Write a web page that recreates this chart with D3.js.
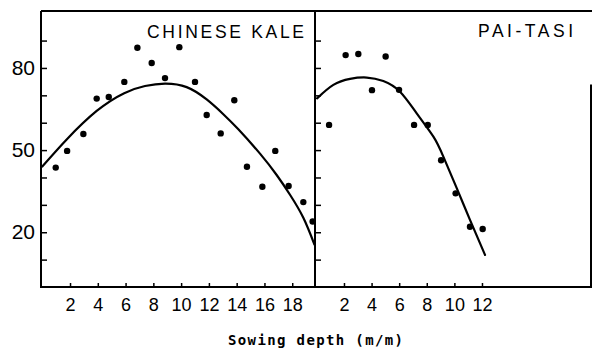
<!DOCTYPE html>
<html>
<head>
<meta charset="utf-8">
<script src="https://cdn.jsdelivr.net/npm/d3@7"></script>
<style>
  html, body { margin: 0; padding: 0; background: #fff; }
  svg { display: block; }
</style>
</head>
<body>
<svg id="chart" width="593" height="348"></svg>
<script>
// ---- data ----
const kaleDepth = [0.97, 1.79, 2.96, 3.92, 4.79, 5.91, 6.85, 7.88, 8.84, 9.87, 11.0, 11.84, 12.85, 13.83, 14.74, 15.85, 16.78, 17.74, 18.8, 19.47];
const kaleValue = [43.6, 49.7, 55.9, 68.8, 69.4, 74.9, 87.4, 81.8, 76.3, 87.6, 74.9, 62.8, 56.1, 68.2, 43.9, 36.6, 49.7, 36.9, 31.0, 23.9];
const kaleFitX = [0.0, 1.76, 3.92, 5.9, 7.4, 8.84, 10.4, 11.84, 13.0, 14.12, 15.68, 16.88, 17.84, 18.8, 19.6];
const kaleFitY = [44.0, 53.9, 64.3, 70.8, 73.4, 74.3, 73.0, 68.5, 63.3, 57.6, 48.7, 40.9, 33.7, 25.3, 15.5];

const paiDepth = [0.92, 2.12, 3.04, 4.03, 5.02, 5.99, 7.08, 8.07, 9.04, 10.09, 11.13, 12.05];
const paiValue = [59.2, 84.7, 85.1, 71.9, 84.2, 72.0, 59.2, 59.2, 46.3, 34.2, 22.0, 21.2];
const paiFitX = [0.05, 1.23, 2.44, 3.65, 4.85, 6.06, 7.27, 8.48, 9.2, 10.17, 11.13, 12.22];
const paiFitY = [68.9, 73.8, 76.0, 76.5, 75.2, 71.3, 63.4, 54.9, 47.6, 36.1, 24.5, 11.7];

const kaleTicks = [2, 4, 6, 8, 10, 12, 14, 16, 18];
const paiTicks = [2, 4, 6, 8, 10, 12];
const yMinorTicks = [10, 20, 30, 40, 50, 60, 70, 80, 90];
const yLabelTicks = [80, 50, 20];
const panelTitles = ["CHINESE KALE", "PAI-TASI"];
const xTitle = "Sowing depth (m/m)";

// ---- layout ----
const L = 41, MID = 315, R = 591, T = 11, B = 287;
const svg = d3.select("#chart");
const ink = "#000";
const numFont = "'Liberation Sans Narrow', 'Liberation Sans', Arial, sans-serif";

const y = d3.scaleLinear().domain([0, 100.8]).range([B, T]);
const xL = d3.scaleLinear().domain([-0.09, 19.64]).range([L, MID]);
const xR = d3.scaleLinear().domain([-0.1, 19.9]).range([MID, R]);

// frame
const frame = svg.append("g").attr("stroke", ink).attr("stroke-width", 2).attr("fill", "none");
frame.append("line").attr("x1", L).attr("x2", R + 1).attr("y1", T).attr("y2", T);
frame.append("line").attr("x1", L).attr("x2", R + 1).attr("y1", B).attr("y2", B);
frame.append("line").attr("x1", L).attr("x2", L).attr("y1", T).attr("y2", B + 1);
frame.append("line").attr("x1", MID).attr("x2", MID).attr("y1", T).attr("y2", B + 1);
frame.append("line").attr("x1", R).attr("x2", R).attr("y1", y(74)).attr("y2", B + 1);

function styleAxis(g) {
  g.select(".domain").remove();
  g.selectAll(".tick line").attr("stroke", ink).attr("stroke-width", 1.5);
  g.selectAll(".tick text").attr("fill", ink).attr("font-family", numFont);
}

// left y axis: inward ticks, labels 80/50/20
svg.append("g").attr("transform", `translate(${L},0)`)
  .call(d3.axisLeft(y).tickValues(yMinorTicks).tickSizeInner(-6).tickSizeOuter(0).tickPadding(6)
    .tickFormat(d => yLabelTicks.includes(d) ? String(d) : ""))
  .call(styleAxis)
  .call(g => g.selectAll(".tick text").attr("font-size", 21));

// divider ticks pointing into right panel
svg.append("g").attr("transform", `translate(${MID},0)`)
  .call(d3.axisRight(y).tickValues(yMinorTicks).tickSizeInner(6).tickSizeOuter(0).tickFormat(""))
  .call(styleAxis);

// bottom axes
svg.append("g").attr("transform", `translate(0,${B})`)
  .call(d3.axisBottom(xL).tickValues(kaleTicks).tickSizeInner(-4).tickSizeOuter(0).tickPadding(11))
  .call(styleAxis)
  .call(g => g.selectAll(".tick text").attr("font-size", 18));
svg.append("g").attr("transform", `translate(0,${B})`)
  .call(d3.axisBottom(xR).tickValues(paiTicks).tickSizeInner(-4).tickSizeOuter(0).tickPadding(11))
  .call(styleAxis)
  .call(g => g.selectAll(".tick text").attr("font-size", 18));

// fitted curves
function drawCurve(xs, ys, xScale) {
  const pts = xs.map((d, i) => [xScale(d), y(ys[i])]);
  svg.append("path")
    .attr("d", d3.line().curve(d3.curveNatural)(pts))
    .attr("fill", "none").attr("stroke", ink).attr("stroke-width", 2.2)
    .attr("stroke-linecap", "round");
}
drawCurve(kaleFitX, kaleFitY, xL);
drawCurve(paiFitX, paiFitY, xR);

// dots
function drawDots(xs, ys, xScale) {
  svg.append("g").selectAll("circle").data(xs).join("circle")
    .attr("cx", d => xScale(d))
    .attr("cy", (d, i) => y(ys[i]))
    .attr("r", 3.2).attr("fill", ink);
}
drawDots(kaleDepth, kaleValue, xL);
drawDots(paiDepth, paiValue, xR);

// panel titles
const titleFont = "'Liberation Sans', Arial, sans-serif";
svg.append("text").attr("x", 147).attr("y", 37.5)
  .attr("font-family", titleFont).attr("font-size", 17.5).attr("fill", ink)
  .attr("textLength", 157).attr("lengthAdjust", "spacing")
  .text(panelTitles[0]);
svg.append("text").attr("x", 478).attr("y", 37)
  .attr("font-family", titleFont).attr("font-size", 17.5).attr("fill", ink)
  .attr("textLength", 95).attr("lengthAdjust", "spacing")
  .text(panelTitles[1]);

// x-axis title
svg.append("text").attr("x", 228).attr("y", 345)
  .attr("font-family", "'DejaVu Sans Mono', 'Liberation Mono', monospace")
  .attr("font-weight", "bold").attr("font-size", 14).attr("fill", ink)
  .attr("textLength", 175).attr("lengthAdjust", "spacing")
  .text(xTitle);
</script>
</body>
</html>
